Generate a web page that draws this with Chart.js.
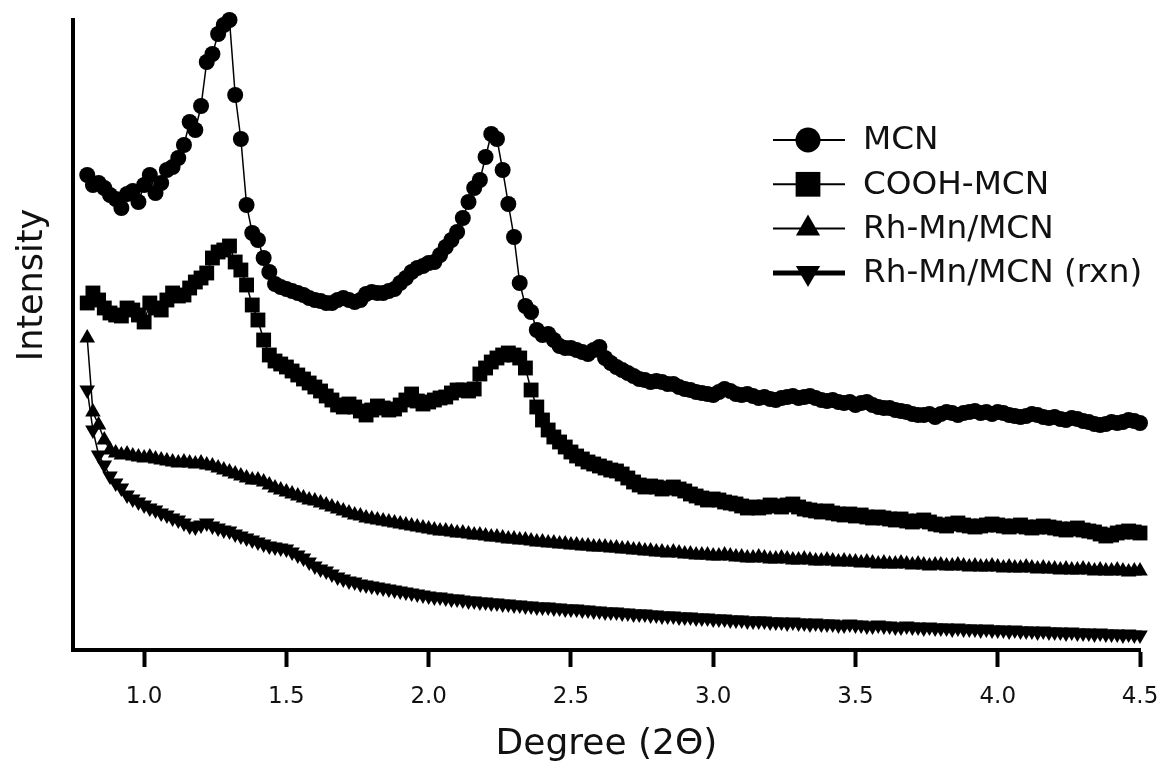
<!DOCTYPE html>
<html>
<head>
<meta charset="utf-8">
<script src="https://cdn.jsdelivr.net/npm/chart.js@4.4.1/dist/chart.umd.min.js"></script>
<style>
  html, body { margin: 0; padding: 0; background: #fff; }
  #wrap { width: 1162px; height: 770px; }
</style>
</head>
<body>
<div id="wrap"><canvas id="chart" width="1162" height="770"></canvas></div>
<script>
// XRD scans, 2-theta from 0.80 to 4.50 in steps of 0.02 (arbitrary intensity units)
const seriesNames = ['MCN', 'COOH-MCN', 'Rh-Mn/MCN', 'Rh-Mn/MCN (rxn)'];
const xTicks = [1.0, 1.5, 2.0, 2.5, 3.0, 3.5, 4.0, 4.5];
const scanStart = 0.80, scanStep = 0.02;

const mcn = [
    473, 463, 465, 460, 453, 449, 440, 454, 457, 446,
    463, 473, 455, 465, 478, 481, 490, 503, 526, 518,
    542, 586, 594, 614, 623, 628, 553, 509, 443, 415,
    408, 390, 376, 364, 361, 359, 357, 355, 353, 350,
    348, 347, 345, 345, 348, 350, 348, 346, 348, 354,
    356, 355, 355, 357, 359, 365, 370, 376, 380, 382,
    385, 386, 393, 401, 408, 416, 430, 446, 460, 468,
    491, 514, 509, 478, 444, 411, 365, 342, 336, 318,
    313, 314, 308, 302, 300, 300, 298, 296, 294, 298,
    301, 290, 285, 281, 278, 275, 272, 269, 268, 266,
    267, 266, 264, 264, 261, 259, 258, 256, 255, 254,
    253, 256, 259, 257, 254, 253, 254, 252, 250, 251,
    249, 248, 250, 251, 252, 250, 251, 252, 250, 248,
    247, 248, 246, 245, 246, 243, 245, 246, 243, 241,
    240, 240, 238, 237, 236, 234, 233, 233, 234, 231,
    234, 236, 235, 233, 235, 236, 237, 235, 236, 234,
    236, 235, 233, 232, 231, 232, 234, 233, 231, 230,
    231, 229, 228, 230, 229, 227, 226, 224, 223, 224,
    226, 225, 226, 228, 227, 225
];
const coohMcn = [
    345, 355, 348, 340, 335, 333, 332, 340, 338, 333,
    326, 345, 340, 338, 348, 355, 352, 353, 360, 366,
    370, 375, 390, 396, 398, 402, 386, 378, 363, 343,
    328, 308, 293, 287, 284, 281, 277, 273, 269, 265,
    261, 257, 252, 248, 243, 241, 244, 241, 237, 233,
    238, 242, 240, 238, 239, 243, 248, 254, 247, 244,
    246, 248, 250, 251, 255, 258, 258, 257, 259, 274,
    280, 286, 290, 293, 295, 293, 290, 280, 258, 241,
    228, 218, 211, 206, 201, 196, 192, 189, 186, 184,
    182, 180, 178, 177, 174, 170, 166, 163, 161, 162,
    161, 159, 160, 161, 159, 157, 154, 152, 150, 148,
    149, 148, 146, 145, 144, 142, 140, 141, 140, 141,
    143, 142, 141, 143, 144, 141, 139, 138, 137, 136,
    137, 135, 134, 133, 134, 132, 133, 131, 130, 131,
    130, 129, 128, 129, 127, 126, 127, 128, 126, 124,
    123, 122, 124, 125, 123, 122, 121, 122, 123, 124,
    123, 122, 121, 122, 123, 121, 120, 121, 122, 121,
    120, 119, 118, 119, 120, 118, 117, 116, 114, 112,
    113, 115, 116, 117, 116, 115
];
const rhMn = [
    310, 236, 223, 208, 198, 195, 193, 194, 192, 191,
    190, 191, 189, 188, 187, 186, 185, 186, 185, 184,
    185, 183, 182, 180, 178, 176, 174, 172, 170, 168,
    168, 166, 163, 160, 158, 156, 154, 152, 150, 148,
    147, 145, 143, 141, 139, 137, 135, 133, 132, 130,
    129, 128, 127, 126, 125, 124, 123, 122, 121, 120,
    119, 118, 117, 117, 116, 115, 115, 114, 113, 113,
    112, 111, 111, 110, 109, 109, 108, 108, 107, 106,
    106, 105, 105, 104, 104, 103, 103, 102, 102, 101,
    101, 101, 100, 100, 99, 99, 98, 98, 97, 97,
    96, 96, 95, 96, 95, 94, 94, 93, 93, 93,
    92, 92, 93, 92, 91, 91, 90, 90, 91, 90,
    89, 89, 90, 89, 88, 88, 89, 88, 87, 87,
    88, 87, 86, 87, 86, 86, 85, 86, 85, 84,
    85, 84, 84, 85, 84, 83, 84, 83, 82, 83,
    83, 82, 82, 83, 82, 81, 82, 81, 81, 82,
    81, 80, 81, 80, 80, 81, 80, 79, 80, 79,
    79, 78, 79, 78, 78, 79, 78, 77, 78, 77,
    77, 78, 77, 76, 77, 77
];
const rhMnRxn = [
    258, 218, 193, 183, 172, 165, 160, 153, 149, 146,
    143, 140, 138, 135, 133, 130, 128, 125, 122, 121,
    123, 125, 122, 120, 118, 117, 114, 112, 110, 108,
    106, 104, 102, 101, 100, 99, 96, 93, 90, 86,
    82, 79, 77, 74, 71, 69, 67, 66, 64, 63,
    62, 61, 60, 59, 58, 57, 56, 55, 54, 53,
    52, 51, 51, 50, 49, 49, 48, 47, 47, 46,
    46, 45, 45, 44, 44, 43, 43, 42, 42, 41,
    41, 41, 40, 40, 39, 39, 39, 38, 38, 37,
    37, 36, 36, 36, 35, 35, 34, 34, 34, 33,
    33, 32, 32, 32, 31, 31, 31, 30, 30, 30,
    29, 29, 29, 28, 28, 28, 27, 27, 27, 27,
    26, 26, 26, 25, 26, 25, 25, 24, 25, 24,
    24, 24, 23, 23, 24, 23, 23, 22, 22, 23,
    22, 22, 21, 21, 22, 21, 21, 20, 21, 20,
    20, 20, 19, 20, 19, 19, 19, 18, 19, 18,
    18, 18, 17, 18, 17, 17, 17, 16, 17, 16,
    16, 16, 15, 16, 15, 15, 15, 14, 15, 14,
    14, 14, 13, 14, 13, 13
];

const twoTheta = mcn.map((_, i) => +(scanStart + i * scanStep).toFixed(2));

function makeSet(label, values, style, radius, rotation, legendRadius, legendLine) {
    return {
        label: label,
        data: values.map((v, i) => ({ x: twoTheta[i], y: v })),
        borderColor: '#000',
        borderWidth: 1.5,
        pointStyle: style,
        pointRadius: radius,
        pointRotation: rotation,
        pointBackgroundColor: '#000',
        pointBorderWidth: 0,
        tension: 0,
        clip: false,
        legendRadius: legendRadius,
        legendLine: legendLine
    };
}

// line + marker legend and the y axis caption
const sideLabels = {
    id: 'sideLabels',
    afterDraw(chart) {
        const ctx = chart.ctx;
        ctx.save();
        ctx.fillStyle = '#111';
        ctx.font = '35px "DejaVu Sans"';
        ctx.translate(33, 285);
        ctx.rotate(-Math.PI / 2);
        ctx.textAlign = 'center';
        ctx.textBaseline = 'middle';
        ctx.fillText('Intensity', 0, 0);
        ctx.restore();

        chart.data.datasets.forEach((ds, i) => {
            const y = 140 + i * 44.3;
            ctx.save();
            ctx.strokeStyle = '#000';
            ctx.lineWidth = ds.legendLine;
            ctx.beginPath();
            ctx.moveTo(773, y);
            ctx.lineTo(845, y);
            ctx.stroke();
            ctx.fillStyle = '#000';
            Chart.helpers.drawPoint(ctx, {
                pointStyle: ds.pointStyle,
                rotation: ds.pointRotation,
                radius: ds.legendRadius,
                borderWidth: 0
            }, 808, y);
            ctx.fillStyle = '#111';
            ctx.font = '32.7px "DejaVu Sans"';
            ctx.textAlign = 'left';
            ctx.textBaseline = 'middle';
            ctx.fillText(ds.label, 863, y + 1);
            ctx.restore();
        });
    }
};

new Chart(document.getElementById('chart'), {
    type: 'line',
    data: {
        datasets: [
            makeSet(seriesNames[0], mcn, 'circle', 8, 0, 12.5, 2),
            makeSet(seriesNames[1], coohMcn, 'rect', 10.5, 0, 17.5, 2),
            makeSet(seriesNames[2], rhMn, 'triangle', 9, 0, 14, 2),
            makeSet(seriesNames[3], rhMnRxn, 'triangle', 9, 180, 14, 5)
        ]
    },
    options: {
        responsive: false,
        animation: false,
        devicePixelRatio: 1,
        layout: { padding: { left: 0, top: 20, right: 0, bottom: 0 } },
        plugins: {
            legend: { display: false },
            tooltip: { enabled: false }
        },
        scales: {
            x: {
                type: 'linear',
                min: 0.75,
                max: 4.5,
                afterFit: s => { s.height = 120; s.paddingLeft = 0; s.paddingRight = 22; },
                afterBuildTicks: s => { s.ticks = xTicks.map(v => ({ value: v })); },
                ticks: {
                    callback: v => v.toFixed(1),
                    font: { family: 'DejaVu Sans', size: 23 },
                    color: '#111',
                    padding: 16,
                    maxRotation: 0,
                    autoSkip: false
                },
                grid: {
                    drawOnChartArea: false,
                    drawTicks: true,
                    tickLength: 17,
                    tickWidth: 4,
                    tickColor: '#000'
                },
                border: { display: true, color: '#000', width: 4 },
                title: {
                    display: true,
                    text: 'Degree (2Θ)',
                    font: { family: 'DejaVu Sans', size: 36 },
                    color: '#111',
                    padding: { top: 0, bottom: 4 }
                }
            },
            y: {
                min: -2,
                max: 628,
                afterFit: s => { s.width = 73; },
                ticks: { display: false },
                grid: { display: false },
                border: { display: true, color: '#000', width: 4 }
            }
        }
    },
    plugins: [sideLabels]
});
</script>
</body>
</html>
